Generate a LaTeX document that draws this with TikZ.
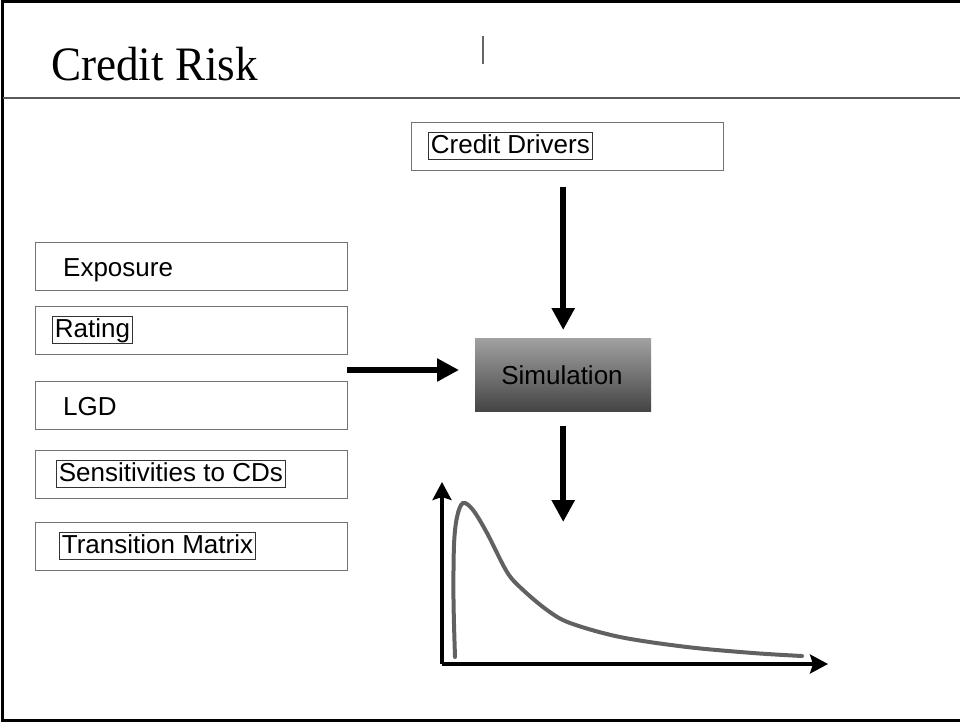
\documentclass[tikz,border=0pt]{standalone}
\usepackage{fontspec}
\setmainfont{Liberation Serif}
\newfontfamily\labelfont{Liberation Sans}
\usetikzlibrary{arrows.meta}

\tikzset{
  x=1pt, y=-1pt,
  inbox/.style={draw=gray!90!black, line width=1pt, minimum width=312pt, minimum height=48pt,
                anchor=north west, inner sep=0pt},
  lbl/.style={font=\labelfont\fontsize{26}{30}\selectfont, inner xsep=2.5pt, inner ysep=1.5pt,
              anchor=base west, text height=19pt, text depth=5pt},
  tagged/.style={lbl, draw=black!80, line width=0.8pt},
  flow/.style={line width=5.5pt, -{Triangle[length=22pt,width=22pt]}},
  axis/.style={line width=3.2pt, -{Stealth[length=18pt,width=19pt,inset=3pt]}},
}

\begin{document}
\begin{tikzpicture}
\useasboundingbox (0,0) rectangle (960,723);

% slide frame and title rule
\draw[line width=3pt] (960,1.5) -- (2,1.5) -- (2,720.5) -- (960,720.5);
\draw[gray!70!black, line width=1.5pt] (3,98) -- (960,98);
\draw[gray!80!black, line width=1.8pt] (483,36) -- (483,64);

\node[font=\fontsize{48}{52}\selectfont, anchor=base west, inner sep=0pt] (title) at (51,80)
  {\scalebox{0.94}[1]{Credit Risk}};

% credit drivers
\node[inbox, minimum width=312pt] (cd) at (411,122) {};
\node[tagged] (cdt) at (428,153) {Credit Drivers};

% input boxes
\node[inbox] (exp) at (35,242) {};
\node[lbl] (expt) at (60.5,276) {Exposure};
\node[inbox] (rat) at (35,306) {};
\node[tagged] (ratt) at (52,337) {Rating};
\node[inbox] (lgd) at (35,381) {};
\node[lbl] (lgdt) at (60.5,415) {LGD};
\node[inbox] (sen) at (35,450) {};
\node[tagged] (sent) at (56,481) {Sensitivities to CDs};
\node[inbox] (tm) at (35,522) {};
\node[tagged] (tmt) at (59,553) {Transition Matrix};

% simulation engine
\node[anchor=north west, minimum width=176pt, minimum height=73pt, inner sep=0pt,
      top color=black!37, bottom color=black!73] (sim) at (475,338) {};
\node[lbl, anchor=base, inner sep=0pt] (simt) at (562,384) {Simulation};

% connectors
\coordinate (feed) at (347,370);
\draw[flow, shorten >=16pt] (feed) -- (feed -| sim.west);
\draw[flow, shorten <=16pt, shorten >=8pt] (cd.south -| sim.north) -- (sim.north);
\coordinate (dist) at (sim.south |- 0,522);
\draw[flow, shorten <=15pt] (sim.south) -- (dist);

% loss distribution chart
\coordinate (o) at (442,664);
\coordinate (ytip) at (442,482);
\coordinate (xtip) at (828,664);
\draw[axis] (o) -- (ytip);
\draw[axis] (o) -- (xtip);
\draw[black!62, line width=4pt, line cap=round]
  plot[smooth, tension=0.55] coordinates {
    (455,657) (453.5,600) (454,545) (457,517) (463,503) (473,510) (487,533)
    (507,572) (522,589) (547,610) (570,623) (620,637) (687,647) (753,653) (802,656)};
\end{tikzpicture}
\end{document}
